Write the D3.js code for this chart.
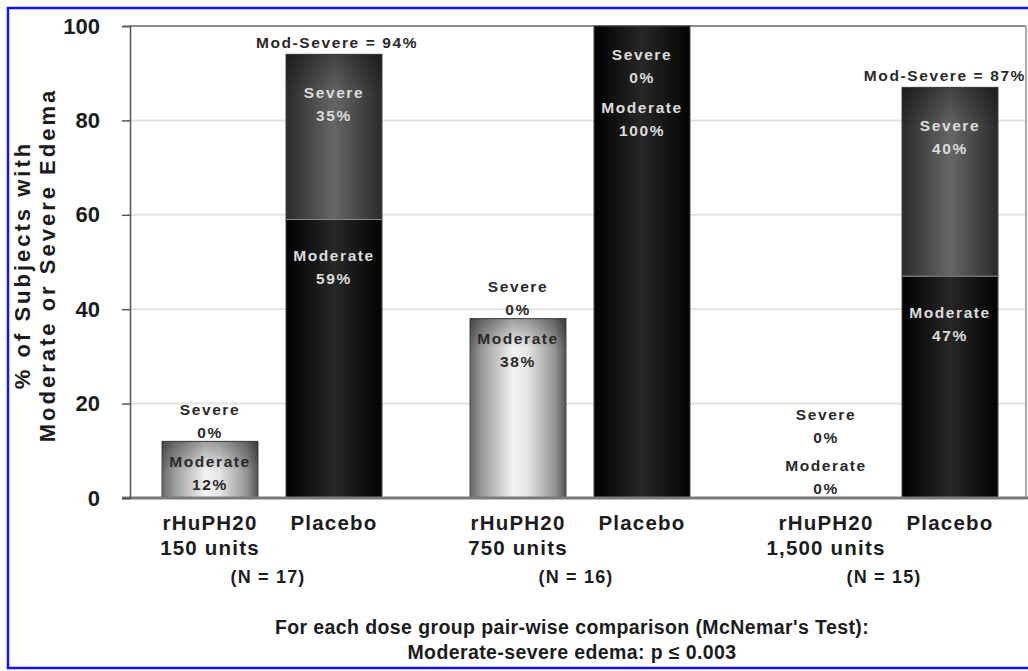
<!DOCTYPE html>
<html>
<head>
<meta charset="utf-8">
<script src="https://cdn.jsdelivr.net/npm/d3@7"></script>
<style>
body { margin: 0; background: #fff; }
text { font-family: "Liberation Sans", Arial, sans-serif; font-weight: bold; }
</style>
</head>
<body>
<script>
// Data.
var doseGroups = ["150 units", "750 units", "1,500 units"];
var groupN = [17, 16, 15];
var arms = ["rHuPH20", "Placebo"];
// One entry per bar: group 1 rHuPH20, group 1 Placebo, group 2 ...
var barGroup = [0, 0, 1, 1, 2, 2];
var barArm = ["rHuPH20", "Placebo", "rHuPH20", "Placebo", "rHuPH20", "Placebo"];
var moderatePct = [12, 59, 38, 100, 0, 47];
var severePct = [0, 35, 0, 0, 0, 40];
var modSevereTotal = [null, 94, null, null, null, 87];
var yTicks = [0, 20, 40, 60, 80, 100];
var yTitle = ["% of Subjects with", "Moderate or Severe Edema"];
var footnote = ["For each dose group pair-wise comparison (McNemar's Test):",
                "Moderate-severe edema: p \u2264 0.003"];

var bars = moderatePct.map(function(m, i){
  return {i: i, group: doseGroups[barGroup[i]], arm: barArm[i],
          mod: m, sev: severePct[i], total: modSevereTotal[i]};
});

var W = 1028, H = 671;
var svg = d3.select("body").append("svg")
  .attr("width", W).attr("height", H);

// scales
var x0 = d3.scaleBand().domain(doseGroups).range([118, 1042]);
var x1 = d3.scaleBand().domain(arms).range([30, 278])
  .paddingInner(0.226).paddingOuter(0.113);
var y = d3.scaleLinear().domain([0, 100]).range([498, 26]);
var plotL = 130, plotR = 1026;
var ink = "#1c1c1c";

function cx(d){ return x0(d.group) + x1(d.arm) + x1.bandwidth() / 2; }

// gradients
var defs = svg.append("defs");
function hGrad(id, stops){
  var g = defs.append("linearGradient").attr("id", id)
    .attr("x1", 0).attr("x2", 1).attr("y1", 0).attr("y2", 0);
  stops.forEach(function(s){
    g.append("stop").attr("offset", s[0]).attr("stop-color", s[1]);
  });
}
hGrad("gLight", [[0, "#666"], [0.12, "#999"], [0.45, "#f3f3f3"], [0.6, "#e6e6e6"], [0.88, "#959595"], [1, "#555"]]);
hGrad("gDark", [[0, "#000"], [0.5, "#272727"], [1, "#030303"]]);
hGrad("gSev", [[0, "#2a2a2a"], [0.5, "#666"], [1, "#2a2a2a"]]);
var shade = defs.append("linearGradient").attr("id", "gTop")
  .attr("x1", 0).attr("x2", 0).attr("y1", 0).attr("y2", 1);
shade.append("stop").attr("offset", 0).attr("stop-color", "#000").attr("stop-opacity", 0.35);
shade.append("stop").attr("offset", 1).attr("stop-color", "#000").attr("stop-opacity", 0);

// blue frame
svg.append("rect")
  .attr("x", 8).attr("y", 8).attr("width", 1040).attr("height", 660)
  .attr("fill", "none").attr("stroke", "#1010ff").attr("stroke-width", 2.5);

// gridlines
svg.append("g").selectAll("line")
  .data(yTicks.filter(function(t){ return t > 0 && t < 100; }))
  .enter().append("line")
  .attr("x1", plotL).attr("x2", plotR)
  .attr("y1", function(d){ return y(d); }).attr("y2", function(d){ return y(d); })
  .attr("stroke", "#e2e2e2").attr("stroke-width", 2);

// plot frame (top + right)
svg.append("line").attr("x1", plotL).attr("x2", plotR)
  .attr("y1", y(100)).attr("y2", y(100))
  .attr("stroke", "#8a8a8a").attr("stroke-width", 2);
svg.append("line").attr("x1", plotR).attr("x2", plotR)
  .attr("y1", y(100)).attr("y2", y(0))
  .attr("stroke", "#aaa").attr("stroke-width", 2);

// bars
var gBars = svg.append("g");
var bw = x1.bandwidth();
bars.forEach(function(d){
  var x = cx(d) - bw / 2;
  var light = d.arm === "rHuPH20";
  if (d.mod > 0) {
    gBars.append("rect")
      .attr("x", x).attr("y", y(d.mod)).attr("width", bw)
      .attr("height", y(0) - y(d.mod))
      .attr("fill", light ? "url(#gLight)" : "url(#gDark)")
      .attr("stroke", "#444").attr("stroke-width", 1);
    if (light) {
      gBars.append("rect")
        .attr("x", x).attr("y", y(d.mod)).attr("width", bw).attr("height", 30)
        .attr("fill", "url(#gTop)");
    }
  }
  if (d.sev > 0) {
    var top = y(d.mod + d.sev);
    gBars.append("rect")
      .attr("x", x).attr("y", top).attr("width", bw)
      .attr("height", y(d.mod) - top)
      .attr("fill", "url(#gSev)")
      .attr("stroke", "#444").attr("stroke-width", 1);
    gBars.append("rect")
      .attr("x", x).attr("y", top).attr("width", bw).attr("height", 40)
      .attr("fill", "url(#gTop)");
    gBars.append("line")
      .attr("x1", x).attr("x2", x + bw)
      .attr("y1", y(d.mod)).attr("y2", y(d.mod))
      .attr("stroke", "#8a8a8a").attr("stroke-width", 1);
  }
});

// zero line
svg.append("line").attr("x1", plotL - 8).attr("x2", W)
  .attr("y1", y(0)).attr("y2", y(0))
  .attr("stroke", "#7a7a7a").attr("stroke-width", 3);

// y axis
var yAxis = svg.append("g")
  .attr("transform", "translate(" + plotL + ",0)")
  .call(d3.axisLeft(y).tickValues(yTicks).tickSize(8).tickPadding(22));
yAxis.select(".domain").attr("stroke", "#555").attr("stroke-width", 1.5);
yAxis.selectAll(".tick line").attr("stroke", "#555").attr("stroke-width", 1.5);
yAxis.selectAll(".tick text")
  .attr("font-size", 22).attr("fill", ink)
  .style("font-family", '"Liberation Sans", Arial, sans-serif')
  .style("font-weight", "bold");

// y title
yTitle.forEach(function(t, k){
  svg.append("text")
    .attr("transform", "translate(" + (22 + k * 25) + ",265) rotate(-90)")
    .attr("text-anchor", "middle").attr("dominant-baseline", "central")
    .attr("font-size", 22).attr("letter-spacing", 3).attr("fill", ink)
    .text(t);
});

// segment labels
function label(x, yy, lines, fill){
  var t = svg.append("text").attr("text-anchor", "middle")
    .attr("font-size", 15.5).attr("letter-spacing", 1.6).attr("fill", fill);
  lines.forEach(function(s, k){
    t.append("tspan").attr("x", x).attr("y", yy + k * 23)
      .attr("dominant-baseline", "central").text(s);
  });
}

bars.forEach(function(d){
  var c = cx(d);
  var light = d.arm === "rHuPH20";
  var sevLines = ["Severe", d.sev + "%"];
  var modLines = ["Moderate", d.mod + "%"];
  var dark = "#2a2a2a", pale = "#dcdcdc";
  var sevY, modY;
  if (d.mod === 0) {
    modY = y(0) - 33;
    sevY = modY - 51;
    label(c, sevY, sevLines, dark);
    label(c, modY, modLines, dark);
  } else if (d.sev > 0) {
    sevY = y(d.mod + d.sev) + 38;
    modY = y(d.mod) + 36;
    label(c, sevY, sevLines, pale);
    label(c, modY, modLines, pale);
  } else if (light) {
    modY = y(d.mod) + 20;
    sevY = modY - 52;
    label(c, sevY, sevLines, dark);
    label(c, modY, modLines, dark);
  } else {
    sevY = y(d.mod) + 28;
    modY = sevY + 53;
    label(c, sevY, sevLines, pale);
    label(c, modY, modLines, pale);
  }
  if (d.total != null) {
    var tt = svg.append("text").attr("font-size", 15.5).attr("letter-spacing", 1.6)
      .attr("fill", dark).attr("dominant-baseline", "central")
      .attr("y", y(d.mod + d.sev) - 12)
      .text("Mod-Severe = " + d.total + "%");
    var tw = tt.node().getComputedTextLength();
    var left = Math.min(c + 3 - tw / 2, plotR - tw);
    tt.attr("x", left);
  }
});

// category labels
bars.forEach(function(d){
  var lines = d.arm === "rHuPH20" ? [d.arm, d.group] : [d.arm];
  var t = svg.append("text").attr("text-anchor", "middle")
    .attr("font-size", 20.5).attr("letter-spacing", 1.2).attr("fill", ink);
  lines.forEach(function(s, k){
    t.append("tspan").attr("x", cx(d)).attr("y", 522 + k * 25)
      .attr("dominant-baseline", "central").text(s);
  });
});

// N per group
doseGroups.forEach(function(g, k){
  svg.append("text").attr("text-anchor", "middle")
    .attr("x", x0(g) + x0.bandwidth() / 2 - 4).attr("y", 577)
    .attr("dominant-baseline", "central")
    .attr("font-size", 18).attr("letter-spacing", 1.2).attr("fill", ink)
    .text("(N = " + groupN[k] + ")");
});

// footnote
footnote.forEach(function(s, k){
  svg.append("text").attr("text-anchor", "middle")
    .attr("x", 572).attr("y", 627 + k * 25)
    .attr("dominant-baseline", "central")
    .attr("font-size", 19.5).attr("letter-spacing", 0.4).attr("fill", ink)
    .text(s);
});
</script>
</body>
</html>
